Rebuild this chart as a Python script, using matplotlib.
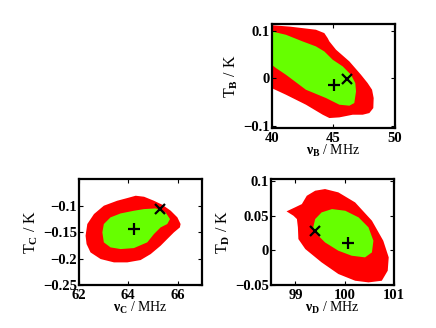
import matplotlib
matplotlib.use("Agg")
import matplotlib.pyplot as plt

plt.rcParams["font.family"] = ["Liberation Serif", "DejaVu Serif"]
plt.rcParams["font.weight"] = "bold"
plt.rcParams["mathtext.fontset"] = "custom"
plt.rcParams["mathtext.rm"] = "Liberation Serif:bold"
plt.rcParams["mathtext.it"] = "Liberation Serif:bold"
plt.rcParams["mathtext.bf"] = "Liberation Serif:bold"

RED = "#ff0000"
GREEN = "#66ff00"

# panel B: nu_B (MHz) vs T_B (K)
b_outer_x = [39.0, 40.0, 41.5, 43.59, 44.27, 44.54, 44.68, 45.22, 46.30, 47.24, 47.78,
             48.14, 48.27, 48.24, 47.92, 47.38, 46.57, 45.49, 44.68, 44.14, 42.78,
             41.16, 40.0, 39.0]
b_outer_y = [0.12, 0.112, 0.109, 0.1025, 0.0954, 0.0849, 0.0779, 0.0604, 0.0358, 0.0077,
             -0.0098, -0.0239, -0.0414, -0.0625, -0.0730, -0.0765, -0.0765, -0.0821,
             -0.0835, -0.0765, -0.0554, -0.0344, -0.0204, -0.015]
b_inner_x = [39.0, 40.0, 41.16, 42.51, 43.59, 44.27, 44.95, 45.76, 46.43, 46.78, 46.84,
             46.70, 46.30, 45.49, 44.41, 42.78, 41.16, 40.35, 40.0, 39.0]
b_inner_y = [0.102, 0.0989, 0.0919, 0.0779, 0.0674, 0.0568, 0.0393, 0.0253, 0.0077,
             -0.0098, -0.0274, -0.0519, -0.0575, -0.0554, -0.0414, -0.0239, 0.0077,
             0.0218, 0.0288, 0.034]
b_plus = (45.08, -0.0133)
b_cross = (46.11, -0.0014)

# panel C: nu_C (MHz) vs T_C (K)
c_outer_x = [62.27, 62.34, 62.61, 63.01, 63.55, 63.96, 64.30, 64.64, 65.04, 65.38, 65.72,
             65.99, 66.12, 66.09, 65.85, 65.58, 65.31, 64.91, 64.50, 63.96, 63.42,
             62.88, 62.47, 62.31]
c_outer_y = [-0.1566, -0.1345, -0.1156, -0.0998, -0.0904, -0.0853, -0.0809, -0.0828,
             -0.0904, -0.0980, -0.1093, -0.1219, -0.1345, -0.1409, -0.1503, -0.1629,
             -0.1756, -0.1913, -0.2027, -0.2071, -0.2071, -0.2008, -0.1882, -0.1724]
c_inner_x = [62.95, 63.01, 63.28, 63.69, 64.23, 64.64, 65.11, 65.51, 65.69, 65.58, 65.31,
             65.04, 64.77, 64.23, 63.69, 63.28, 63.01]
c_inner_y = [-0.1503, -0.1345, -0.1219, -0.1144, -0.1093, -0.1062, -0.1049, -0.1125,
             -0.1251, -0.1345, -0.1409, -0.1535, -0.1692, -0.1800, -0.1819, -0.1787,
             -0.1692]
c_plus = (64.23, -0.144)
c_cross = (65.28, -0.1062)

# panel D: nu_D (MHz) vs T_D (K)
d_outer_x = [98.82, 98.99, 99.13, 99.23, 99.40, 99.60, 99.87, 100.21, 100.55, 100.78,
             100.89, 100.87, 100.75, 100.48, 100.21, 99.87, 99.53, 99.20, 99.06, 99.05,
             99.03, 98.96]
d_outer_y = [0.0563, 0.0620, 0.0668, 0.0788, 0.0861, 0.0885, 0.0837, 0.0692, 0.0428,
             0.0139, -0.0101, -0.0293, -0.0438, -0.0462, -0.0438, -0.0341, -0.0173,
             0.0019, 0.0163, 0.0332, 0.0452, 0.0500]
d_inner_x = [99.40, 99.53, 99.74, 100.01, 100.28, 100.48, 100.58, 100.55, 100.41, 100.14,
             99.87, 99.60, 99.43, 99.36]
d_inner_y = [0.0452, 0.0548, 0.0596, 0.0572, 0.0476, 0.0332, 0.0139, -0.0029, -0.0101,
             -0.0077, -0.0005, 0.0115, 0.0236, 0.0332]
d_plus = (100.07, 0.0101)
d_cross = (99.40, 0.0284)


def panel(ax, ox, oy, ix, iy, plus, cross, xlim, ylim, xticks, yticks, xlab, ylab):
    ax.fill(ox, oy, color=RED, lw=0)
    ax.fill(ix, iy, color=GREEN, lw=0)
    ax.plot(*plus, marker="+", color="k", ms=9, mew=1.6)
    ax.plot(*cross, marker="x", color="k", ms=6.5, mew=1.6)
    ax.set_xlim(*xlim)
    ax.set_ylim(*ylim)
    ax.set_xticks(xticks)
    ax.set_yticks(yticks)
    ax.set_xticklabels([f"{t:g}" for t in xticks])
    ax.set_yticklabels([f"{t:g}".replace("-", "\u2212") for t in yticks])
    ax.tick_params(direction="in", length=3, width=0.8, top=True, right=True,
                   labelsize=10.5)
    ax.tick_params(axis="x", pad=2.5)
    ax.tick_params(axis="y", pad=1.5)
    for s in ax.spines.values():
        s.set_linewidth(1.6)
    ax.set_xlabel(xlab, fontsize=10, labelpad=-1)
    ax.set_ylabel(ylab, fontsize=11.5, labelpad=2)


fig = plt.figure(figsize=(4.36, 3.28), dpi=100)
ax_b = fig.add_axes([0.623, 0.609, 0.283, 0.317])
ax_c = fig.add_axes([0.181, 0.131, 0.283, 0.322])
ax_d = fig.add_axes([0.621, 0.131, 0.283, 0.322])

panel(ax_b, b_outer_x, b_outer_y, b_inner_x, b_inner_y, b_plus, b_cross,
      (40, 50), (-0.105, 0.114), [40, 45, 50], [-0.1, 0, 0.1],
      r"$\nu_\mathrm{B}$ / MHz", r"T$_\mathrm{B}$ / K")
panel(ax_c, c_outer_x, c_outer_y, c_inner_x, c_inner_y, c_plus, c_cross,
      (62, 67), (-0.25, -0.05), [62, 64, 66], [-0.25, -0.2, -0.15, -0.1],
      r"$\nu_\mathrm{C}$ / MHz", r"T$_\mathrm{C}$ / K")
panel(ax_d, d_outer_x, d_outer_y, d_inner_x, d_inner_y, d_plus, d_cross,
      (98.5, 101), (-0.05, 0.1024), [99, 100, 101], [-0.05, 0, 0.05, 0.1],
      r"$\nu_\mathrm{D}$ / MHz", r"T$_\mathrm{D}$ / K")

fig.savefig("out.png", dpi=100)
